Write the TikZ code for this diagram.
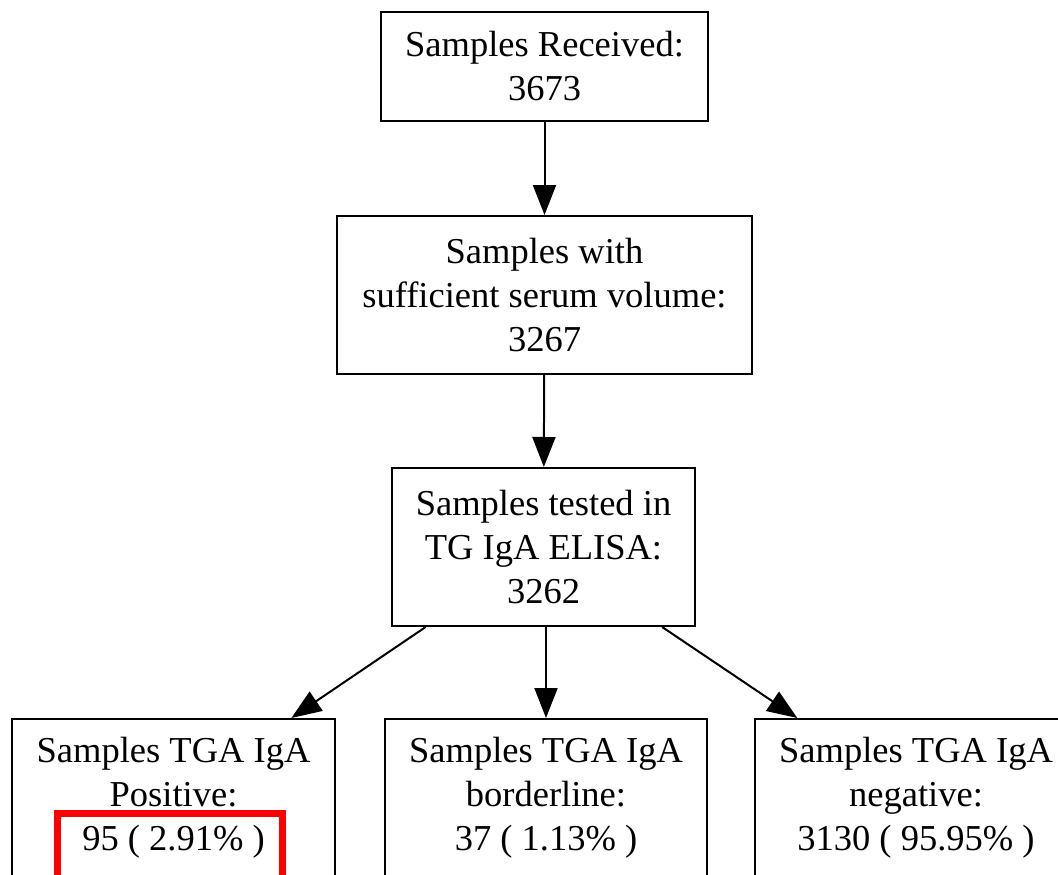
\documentclass[tikz,border=0pt]{standalone}
\usepackage{fontspec}
\setmainfont{Liberation Serif}
\usetikzlibrary{arrows.meta}
\tikzset{
  box/.style={draw=black, line width=2pt, align=center, inner sep=0pt,
    font=\fontsize{36.5}{44}\selectfont},
  arr/.style={line width=2pt, -{Triangle[length=30pt,width=23pt]}},
  hl/.style={draw={rgb,255:red,255;green,0;blue,0}, line width=7pt}
}
\begin{document}
\begin{tikzpicture}[x=1pt,y=-1pt]
\useasboundingbox (0,0) rectangle (1058,875);
\clip (0,0) rectangle (1058,875);
\fill[white] (0,0) rectangle (1058,875);
\node[box, minimum width=327pt, minimum height=109pt] (b1) at (544.5,66.5) {Samples Received:\\3673};
\node[box, minimum width=415pt, minimum height=158pt] (b2) at (544.5,295) {Samples with\\sufficient serum volume:\\3267};
\node[box, minimum width=303pt, minimum height=158pt] (b3) at (543.5,547) {Samples tested in\\TG IgA ELISA:\\3262};
\node[box, minimum width=323pt, minimum height=158pt] (bl) at (173.5,798) {Samples TGA IgA\\Positive:\\95 ( 2.91\% )};
\node[box, minimum width=322pt, minimum height=158pt] (bm) at (546,798) {Samples TGA IgA\\borderline:\\37 ( 1.13\% )};
\node[box, minimum width=322pt, minimum height=158pt] (br) at (916,798) {Samples TGA IgA\\negative:\\3130 ( 95.95\% )};
\draw[arr] (b1) -- (b2);
\draw[arr] (b2) -- (b3);
\draw[arr] (b3) -- (bl);
\draw[arr] (b3.south -| bm) -- (bm);
\draw[arr] (b3) -- (br);
\draw[hl] (57,813) rectangle (282,920);
\end{tikzpicture}
\end{document}
